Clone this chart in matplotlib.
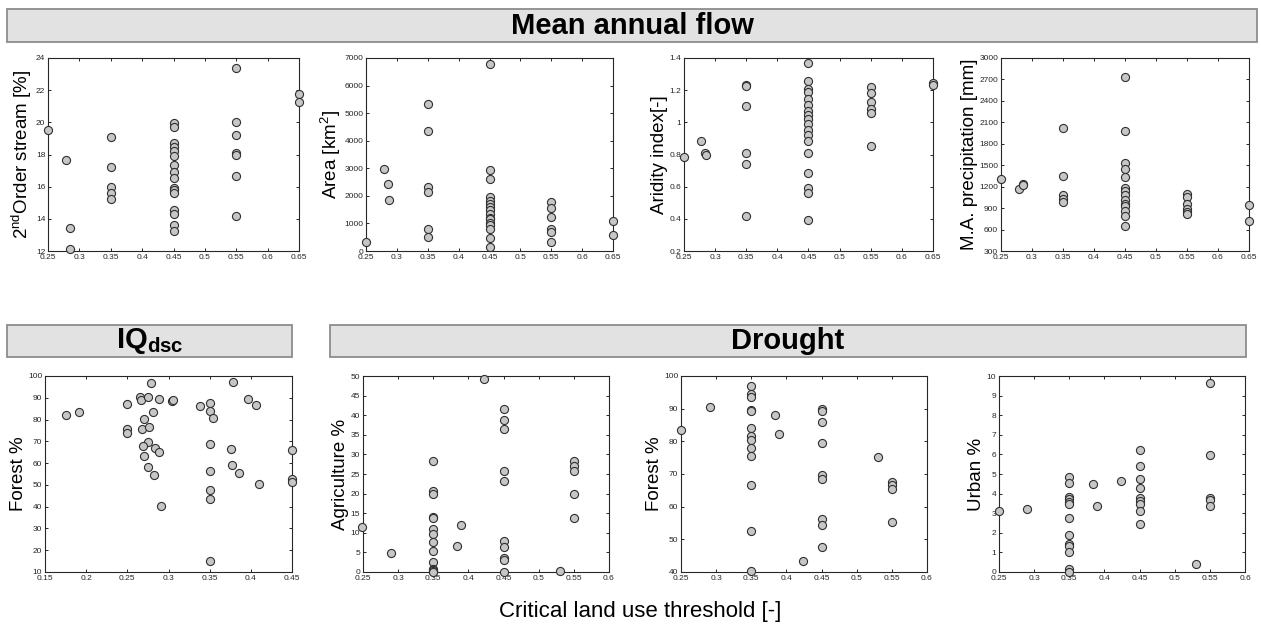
import matplotlib
matplotlib.use('Agg')
import matplotlib.pyplot as plt
from matplotlib.patches import Rectangle
import numpy as np

plt.rcParams['font.family'] = ['Liberation Sans', 'DejaVu Sans']
plt.rcParams['mathtext.fontset'] = 'custom'
plt.rcParams['mathtext.rm'] = 'Liberation Sans'
plt.rcParams['mathtext.bf'] = 'Liberation Sans:bold'

# ── Mean annual flow ─────────────────────────────────────────────────────────
stream_x = [0.25, 0.279, 0.285, 0.285,
            0.35, 0.35, 0.35, 0.35, 0.35,
            0.45, 0.45, 0.45, 0.45, 0.45, 0.45, 0.45, 0.45, 0.45, 0.45, 0.45, 0.45,
            0.45, 0.45, 0.45, 0.45,
            0.55, 0.55, 0.55, 0.55, 0.55, 0.55, 0.55,
            0.65, 0.65]
stream_y = [19.53, 17.65, 13.43, 12.15,
            19.09, 17.24, 15.99, 15.62, 15.26,
            19.94, 19.69, 18.74, 18.49, 18.24, 17.93, 17.34, 16.93, 16.51, 15.93, 15.78, 15.58,
            14.54, 14.27, 13.64, 13.25,
            23.35, 20.05, 19.19, 18.11, 18.0, 16.64, 14.18,
            21.77, 21.27]

area_x = [0.25, 0.279, 0.285, 0.287,
          0.35, 0.35, 0.35, 0.35, 0.35, 0.35,
          0.45, 0.45, 0.45, 0.45, 0.45, 0.45, 0.45, 0.45, 0.45, 0.45, 0.45, 0.45, 0.45,
          0.45, 0.45, 0.45,
          0.55, 0.55, 0.55, 0.55, 0.55, 0.55,
          0.65, 0.65]
area_y = [329, 2960, 2436, 1851,
          5323, 4348, 2339, 2156, 816, 524,
          6784, 2948, 2607, 1950, 1830, 1700, 1580, 1480, 1350, 1200, 1150, 1000, 950,
          800, 470, 130,
          1790, 1547, 1218, 792, 694, 329,
          1084, 585]

arid_x = [0.25, 0.278, 0.283, 0.286,
          0.35, 0.35, 0.35, 0.35, 0.35, 0.35,
          0.45, 0.45, 0.45, 0.45, 0.45, 0.45, 0.45, 0.45, 0.45, 0.45, 0.45, 0.45,
          0.45, 0.45, 0.45, 0.45, 0.45, 0.45,
          0.55, 0.55, 0.55, 0.55, 0.55, 0.55,
          0.65, 0.65]
arid_y = [0.782, 0.887, 0.81, 0.797,
          1.231, 1.227, 1.104, 0.808, 0.743, 0.415,
          1.367, 1.256, 1.21, 1.19, 1.144, 1.11, 1.07, 1.046, 1.018, 0.991, 0.951, 0.924,
          0.885, 0.808, 0.684, 0.59, 0.559, 0.392,
          1.221, 1.181, 1.129, 1.081, 1.06, 0.851,
          1.242, 1.235]

precip_x = [0.25, 0.279, 0.285, 0.286,
            0.35, 0.35, 0.35, 0.35, 0.35,
            0.45, 0.45, 0.45, 0.45, 0.45, 0.45, 0.45, 0.45, 0.45, 0.45, 0.45, 0.45,
            0.45, 0.45,
            0.55, 0.55, 0.55, 0.55, 0.55, 0.55,
            0.65, 0.65]
precip_y = [1301, 1171, 1236, 1227,
            2023, 1348, 1078, 1031, 990,
            2731, 1972, 1530, 1450, 1334, 1180, 1138, 1078, 1008, 961, 929, 859,
            789, 654,
            1101, 1054, 961, 891, 845, 822,
            943, 714]

# ── IQdsc ────────────────────────────────────────────────────────────────────
iq_x = [0.1755, 0.1917, 0.25, 0.25, 0.25, 0.265, 0.2664, 0.2745, 0.2783, 0.281,
        0.2698, 0.2682, 0.2763, 0.275, 0.2686, 0.2702, 0.2842, 0.2887, 0.2747, 0.282,
        0.2913, 0.2887, 0.3042, 0.3059, 0.3383, 0.35, 0.35, 0.354, 0.35, 0.35,
        0.35, 0.35, 0.35, 0.378, 0.3966, 0.4059, 0.3755, 0.3775, 0.3856, 0.41,
        0.45, 0.45, 0.45]
iq_forest = [82.3, 83.4, 87.2, 75.7, 73.8, 90.5, 89.2, 90.2, 96.9, 83.4,
             80.3, 75.5, 76.5, 69.7, 67.7, 63.4, 66.9, 65.2, 58.3, 54.6,
             40.5, 89.5, 88.3, 89.2, 86.2, 87.7, 84.0, 80.6, 68.8, 56.5,
             47.8, 43.5, 15.1, 97.1, 89.5, 86.9, 66.5, 59.1, 55.4, 50.6,
             65.8, 52.8, 51.1]

# ── Drought ──────────────────────────────────────────────────────────────────
agri_x = [0.249, 0.2894,
          0.35, 0.35, 0.35, 0.35, 0.35, 0.35, 0.35, 0.35, 0.35, 0.35, 0.35, 0.35, 0.35, 0.35,
          0.3837, 0.3894, 0.4226,
          0.45, 0.45, 0.45, 0.45, 0.45, 0.45, 0.45, 0.45, 0.45, 0.45,
          0.5297,
          0.55, 0.55, 0.55, 0.55, 0.55]
agri_y = [11.4, 4.9,
          28.4, 20.7, 19.9, 14.1, 13.9, 10.9, 9.7, 7.6, 5.4, 2.6, 0.8, 0.4, 0.2, 0.0,
          6.7, 12.1, 49.2,
          41.6, 38.9, 36.4, 25.7, 23.2, 7.8, 6.4, 3.5, 3.1, 0.0,
          0.2,
          28.4, 27.1, 25.7, 19.8, 13.7]

dr_forest_x = [0.25, 0.2907,
               0.35, 0.35, 0.35, 0.35, 0.35, 0.35, 0.35, 0.35, 0.35, 0.35, 0.35, 0.35, 0.35,
               0.3843, 0.3895, 0.4231,
               0.45, 0.45, 0.45, 0.45, 0.45, 0.45, 0.45, 0.45, 0.45,
               0.53,
               0.55, 0.55, 0.55, 0.55]
dr_forest_y = [83.4, 90.6,
               97.0, 94.5, 93.5, 89.5, 89.2, 84.0, 81.5, 80.5, 77.9, 75.6, 66.5, 52.6, 40.4,
               88.2, 82.3, 43.4,
               90.0, 89.4, 86.0, 79.5, 69.6, 68.6, 56.3, 54.4, 47.7,
               75.1,
               67.7, 66.5, 65.5, 55.4]

urban_x = [0.25, 0.2898,
           0.35, 0.35, 0.35, 0.35, 0.35, 0.35, 0.35, 0.35, 0.35, 0.35, 0.35, 0.35, 0.35,
           0.3842, 0.3894, 0.4231,
           0.45, 0.45, 0.45, 0.45, 0.45, 0.45, 0.45, 0.45, 0.45,
           0.5302,
           0.55, 0.55, 0.55, 0.55, 0.55]
urban_y = [3.13, 3.2,
           4.84, 4.53, 3.85, 3.73, 3.56, 3.47, 2.75, 1.88, 1.45, 1.33, 1.04, 0.17, 0.0,
           4.5, 3.38, 4.63,
           6.22, 5.42, 4.77, 4.31, 3.76, 3.62, 3.47, 3.11, 2.44,
           0.41,
           9.64, 5.98, 3.78, 3.67, 3.38]

W, H = 1261, 635
fig = plt.figure(figsize=(W / 100, H / 100), dpi=100)


def px_axes(left, top, right, bottom):
    return fig.add_axes([left / W, 1 - bottom / H, (right - left) / W, (bottom - top) / H])


def header(left, top, right, bottom, text):
    fig.patches.append(Rectangle((left / W, 1 - bottom / H), (right - left) / W, (bottom - top) / H,
                                 transform=fig.transFigure, facecolor='#e2e2e2',
                                 edgecolor='#8c8c8c', linewidth=1.3))
    fig.text((left + right) / 2 / W, 1 - (top + bottom) / 2 / H, text, ha='center', va='center',
             fontsize=21, fontweight='bold', color='black')


def panel(rect, x, y, xlim, xticks, ylim, yticks, ylabel):
    ax = px_axes(*rect)
    ax.scatter(x, y, s=34, facecolor='#c6c6c6', edgecolor='#303030', linewidth=0.8,
               clip_on=False, zorder=3)
    ax.set_xlim(xlim)
    ax.set_ylim(ylim)
    ax.set_xticks(xticks)
    ax.set_yticks(yticks)
    ax.set_xticklabels(['%g' % round(t, 3) for t in xticks])
    ax.set_yticklabels(['%g' % round(t, 3) for t in yticks])
    ax.tick_params(direction='in', length=2.5, width=0.7, top=True, right=True,
                   labelsize=6, colors='#262626')
    ax.tick_params(axis='x', pad=2.5)
    ax.tick_params(axis='y', pad=2)
    for sp in ax.spines.values():
        sp.set_color('#262626')
        sp.set_linewidth(0.8)
    ax.set_ylabel(ylabel, fontsize=13.5, labelpad=1)
    return ax


header(7, 9, 1257, 42, 'Mean annual flow')
header(7, 325, 292, 357, r'IQ$_{\mathbf{dsc}}$')
header(330, 325, 1246, 357, 'Drought')

xt1 = np.arange(0.25, 0.651, 0.05)
panel((48, 58, 299, 251), stream_x, stream_y, (0.25, 0.65), xt1, (12, 24), np.arange(12, 25, 2),
      r'2$^{\mathrm{nd}}$Order stream [%]')
panel((366, 58, 613, 251), area_x, area_y, (0.25, 0.65), xt1, (0, 7000), np.arange(0, 7001, 1000),
      r'Area [km$^2$]')
panel((684, 58, 933, 251), arid_x, arid_y, (0.25, 0.65), xt1, (0.2, 1.4), np.arange(0.2, 1.41, 0.2),
      'Aridity index[-]')
panel((1001, 58, 1249, 251), precip_x, precip_y, (0.25, 0.65), xt1, (300, 3000),
      np.arange(300, 3001, 300), 'M.A. precipitation [mm]')

xt2 = np.arange(0.25, 0.601, 0.05)
panel((45, 376, 292, 572), iq_x, iq_forest, (0.15, 0.45), np.arange(0.15, 0.451, 0.05),
      (10, 100), np.arange(10, 101, 10), 'Forest %')
panel((363, 376, 609, 572), agri_x, agri_y, (0.25, 0.6), xt2, (0, 50), np.arange(0, 51, 5),
      'Agriculture %')
panel((681, 376, 927, 572), dr_forest_x, dr_forest_y, (0.25, 0.6), xt2, (40, 100),
      np.arange(40, 101, 10), 'Forest %')
panel((999, 376, 1245, 572), urban_x, urban_y, (0.25, 0.6), xt2, (0, 10), np.arange(0, 11, 1),
      'Urban %')

fig.text(640 / W, 1 - 612 / H, 'Critical land use threshold [-]', ha='center', va='center',
         fontsize=16)

fig.savefig('out.png', dpi=100)
